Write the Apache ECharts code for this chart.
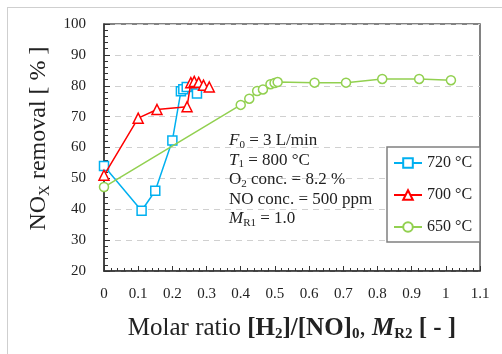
<!DOCTYPE html>
<html><head><meta charset="utf-8">
<script src="https://cdn.jsdelivr.net/npm/echarts@6/dist/echarts.min.js"></script>
<style>
html,body{margin:0;padding:0;background:#fff;overflow:hidden}
#wrap{position:relative;width:502px;height:354px}
#c{width:502px;height:354px}
#wrap::after{content:'';position:absolute;left:7px;top:7px;width:600px;height:500px;border-left:1px solid #cfcfcf;border-top:1px solid #cfcfcf;pointer-events:none}
</style>
</head><body><div id="wrap"><div id="c"></div></div>
<script>
var seriesNames = ['720 °C', '700 °C', '650 °C'];
var s720 = [[0, 54], [0.11, 39.5], [0.15, 46], [0.20, 62.3], [0.225, 78.2], [0.232, 78.9], [0.242, 79.6], [0.272, 77.5]];
var s700 = [[0, 51], [0.10, 69.5], [0.155, 72.3], [0.243, 73.2], [0.254, 81.0], [0.264, 81.4], [0.277, 81.1], [0.291, 80.2], [0.308, 79.6]];
var s650 = [[0, 47.2], [0.40, 73.8], [0.425, 75.8], [0.448, 78.3], [0.465, 78.8], [0.487, 80.5], [0.499, 80.9], [0.508, 81.2], [0.616, 81.0], [0.708, 81.0], [0.814, 82.2], [0.922, 82.2], [1.015, 81.8]];
var xTicks = ['0', '0.1', '0.2', '0.3', '0.4', '0.5', '0.6', '0.7', '0.8', '0.9', '1', '1.1'];
var yTicks = [20, 30, 40, 50, 60, 70, 80, 90, 100];
var colors = ['#00B0F0', '#FF0000', '#92D050'];
var symbols = ['rect', 'triangle', 'circle'];

var chart = echarts.init(document.getElementById('c'));
var serif = 'Liberation Serif';
function mk(name, data, i) {
  return {
    name: name, type: 'line', data: data, symbol: symbols[i], symbolSize: i === 1 ? 10 : 9,
    lineStyle: {color: colors[i], width: 1.5},
    itemStyle: {color: '#fff', borderColor: colors[i], borderWidth: 1.5},
    z: 3 + i
  };
}
var ink = '#222';
var option = {
  animation: false,
  title: {
    left: 229, top: 131, padding: 0,
    text: '{i|F}{s|0}{n| = 3 L/min}\n{i|T}{s|1}{n| = 800 °C}\n{n|O}{s|2}{n| conc. = 8.2 %}\n{n|NO conc. = 500 ppm}\n{i|M}{s|R1}{n| = 1.0}',
    textStyle: {fontFamily: serif, fontSize: 17, fontWeight: 'normal', color: ink, lineHeight: 19.5,
      rich: {
        i: {fontFamily: serif, fontStyle: 'italic', fontSize: 17, color: ink, lineHeight: 19.5},
        n: {fontFamily: serif, fontSize: 17, color: ink, lineHeight: 19.5},
        s: {fontFamily: serif, fontSize: 11, color: ink, padding: [8, 0, 0, 0], lineHeight: 11}
      }}
  },
  grid: {left: 104, right: 22, top: 24, bottom: 83, show: true, borderColor: '#595959', borderWidth: 1.5},
  xAxis: {
    type: 'value', min: 0, max: 1.1, interval: 0.1,
    axisLine: {show: true, lineStyle: {color: '#333', width: 1.5}},
    axisTick: {show: true, inside: true, length: 5, lineStyle: {color: '#333', width: 1}},
    minorTick: {show: true, splitNumber: 5, length: 3, lineStyle: {color: '#333', width: 1}},
    splitLine: {show: false},
    axisLabel: {margin: 16, fontFamily: serif, fontSize: 15, color: ink,
      formatter: function (v) { var i = Math.round(v * 10); return xTicks[i] !== undefined ? xTicks[i] : ''; }},
    name: '{n|Molar ratio }{b|[H}{bs|2}{b|]/[NO]}{bs|0}{n|, }{bi|M}{bis|R2}{b| [ - ]}',
    nameLocation: 'middle', nameGap: 44,
    nameTextStyle: {fontFamily: serif, fontSize: 25, color: ink, rich: {
      n: {fontFamily: serif, fontSize: 25, color: ink},
      b: {fontFamily: serif, fontSize: 25, fontWeight: 'bold', color: ink},
      bs: {fontFamily: serif, fontSize: 15, fontWeight: 'bold', color: ink, padding: [12, 0, 0, 0]},
      bi: {fontFamily: serif, fontSize: 25, fontWeight: 'bold', fontStyle: 'italic', color: ink},
      bis: {fontFamily: serif, fontSize: 15, fontWeight: 'bold', color: ink, padding: [12, 0, 0, 0]}}}
  },
  yAxis: {
    type: 'value', min: 20, max: 100, interval: 10,
    axisLine: {show: true, lineStyle: {color: '#333', width: 1.5}},
    axisTick: {show: true, inside: true, length: 6, lineStyle: {color: '#333', width: 1}},
    minorTick: {show: true, splitNumber: 5, length: 4, lineStyle: {color: '#333', width: 1}},
    splitLine: {show: true, lineStyle: {color: '#d0d0d0', type: [6, 5], width: 1}},
    axisLabel: {margin: 18, fontFamily: serif, fontSize: 15, color: ink,
      formatter: function (v) { return yTicks.indexOf(v) >= 0 ? String(v) : ''; }},
    name: '{n|NO}{s|X}{n| removal [ % ]}',
    nameLocation: 'middle', nameRotate: 90, nameGap: 50,
    nameTextStyle: {fontFamily: serif, fontSize: 24, color: ink, padding: [0, 0, 0, 18], rich: {
      n: {fontFamily: serif, fontSize: 24, color: ink},
      s: {fontFamily: serif, fontSize: 15, color: ink, padding: [12, 0, 0, 0]}}}
  },
  legend: {
    orient: 'vertical', left: 387, top: 147, itemWidth: 28, itemHeight: 12, itemGap: 16,
    padding: [8, 8, 7, 6], backgroundColor: '#fff', borderColor: '#808080', borderWidth: 1.5, borderRadius: 0,
    textStyle: {fontFamily: serif, fontSize: 16, color: ink},
    data: seriesNames
  },
  series: [mk(seriesNames[0], s720, 0), mk(seriesNames[1], s700, 1), mk(seriesNames[2], s650, 2)]
};
chart.setOption(option);
</script></body></html>
